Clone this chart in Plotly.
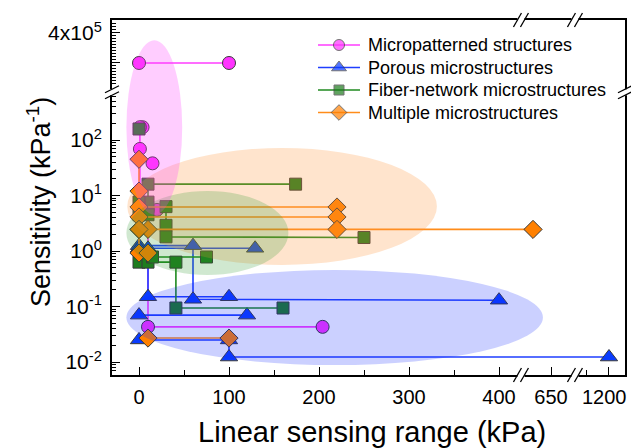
import math
import plotly.graph_objects as go

# ---------------- data (real units: kPa, kPa^-1) ----------------
micro_x = [0, 100, None, 4, 1, 1, 1, 20, 10, 10, 204, None, 15]
micro_y = [3e5, 3e5, None, 170, 170, 69, 5.5, 5.5, 5.5, 0.043, 0.043, None, 38]

porous_x = [0, 60, 60, 400, None, 129, 0, None, 10, 10, 100, None, 0, 120, None, 0, 100, 100, 1200]
porous_y = [1.25, 1.25, 0.135, 0.13, None, 1.12, 1.12, None, 1.12, 0.15, 0.15, None, 0.07, 0.07,
            None, 0.025, 0.025, 0.0123, 0.0123]

fiber_x = [0, None, 174, 10, 10, 0, None, 0, 10, None, 30, 30, 30, 250, None,
           0, 10, 41, 41, 160, None, 15, 75]
fiber_y = [158, None, 16, 16, 7.6, 7.6, None, 4.5, 4.5, None, 6.3, 2.9, 1.8, 1.75, None,
           0.63, 0.63, 0.63, 0.094, 0.094, None, 0.78, 0.78]

multi_x = [0, 0, 0, 220, 220, 0, 0, 10, 220, 630, None, 0, 0, 10, None, 10, 100]
multi_y = [45, 12, 6.2, 6.2, 4.1, 4.1, 2.45, 2.45, 2.45, 2.45, None, 2.45, 0.92, 0.92, None, 0.027, 0.027]

series_names = ["Micropatterned structures", "Porous microstructures",
                "Fiber-network microstructures", "Multiple microstructures"]

# highlight regions (x_low, x_high, y_low, y_high) in data units
region_micro = (-14, 48, 4.5, 3.76e5)
region_multi = (-13, 331, 0.56, 72)
region_fiber = (-14, 166, 0.37, 12)
region_porous = (-14, 641, 0.0088, 0.455)

x_tick_vals = [0, 100, 200, 300, 400, 650, 1200]
x_tick_text = ["0", "100", "200", "300", "400", "650", "1200"]
x_minor_vals = [50, 150, 250, 350, 1175]
y_decades = [-2, -1, 0, 1, 2]

# ---------------- broken-axis transforms ----------------
SEG2_OFF = 192.2   # 650 -> 457.8
SEG3_OFF = 677.8   # 1200 -> 522.2


def tx(v):
    if v is None:
        return None
    if v <= 420:
        return v
    if v <= 900:
        return v - SEG2_OFF
    return v - SEG3_OFF


TOP_REF = 4e5
TOP_Y = 3.928
TOP_SCALE = 0.5405e-5


def ty(v):
    if v is None:
        return None
    if v < 1e4:
        return math.log10(v)
    return TOP_Y + (v - TOP_REF) * TOP_SCALE


X_RANGE = [-30, 540]
Y_RANGE = [-2.234, 4.162]
X_BREAKS = [424.4, 484.4]
Y_BREAK = 2.86

FONT = "Liberation Sans, Arial, sans-serif"

W, H = 631, 448
ML, MR, MT, MB = 112, 6, 20, 73
PW, PH = W - ML - MR, H - MT - MB


def fx(px):   # page pixel -> plot-area fraction
    return (px - ML) / PW


def fy(py):
    return 1 - (py - MT) / PH


fig = go.Figure()
styles = [
    dict(lc="#ff3cff", sym="circle", mc="#ff33ff", ms=13, lms=11),
    dict(lc="#1f3fff", sym="triangle-up", mc="#0a3cff", ms=15, lms=13),
    dict(lc="#1f8a1f", sym="square", mc="#1e7d1e", ms=12, lms=10),
    dict(lc="#ff8c1a", sym="diamond", mc="#ff8000", ms=14, lms=12),
]
for name, xs, ys, st in zip(series_names, [micro_x, porous_x, fiber_x, multi_x],
                            [micro_y, porous_y, fiber_y, multi_y], styles):
    fig.add_trace(go.Scatter(
        x=[tx(v) for v in xs], y=[ty(v) for v in ys], name=name, showlegend=False,
        mode="lines+markers", connectgaps=False,
        line=dict(color=st["lc"], width=1.6),
        marker=dict(symbol=st["sym"], size=st["ms"], color=st["mc"],
                    line=dict(color="#3a3a3a", width=1)),
    ))

# custom key (rows 22.5 px apart)
row_px = [45, 67.5, 90, 112.5]
for name, st, rp in zip(series_names, styles, row_px):
    fig.add_trace(go.Scatter(
        x=[fx(318), fx(339), fx(360)], y=[fy(rp)] * 3, xaxis="x2", yaxis="y2",
        mode="lines+markers", showlegend=False, hoverinfo="skip",
        line=dict(color=st["lc"], width=1.6),
        marker=dict(symbol=st["sym"], size=[0, st["lms"], 0], color=st["mc"],
                    line=dict(color="#3a3a3a", width=[0, 1, 0])),
    ))
    fig.add_annotation(xref="x2", yref="y2", x=fx(366), y=fy(rp), text=name,
                       showarrow=False, xanchor="left", yanchor="middle",
                       font=dict(size=18, family=FONT, color="black"))

# highlight ellipses
for reg, col in [(region_porous, "rgba(20,40,255,0.22)"),
                 (region_multi, "rgba(255,150,60,0.26)"),
                 (region_fiber, "rgba(40,150,40,0.22)"),
                 (region_micro, "rgba(255,60,255,0.26)")]:
    fig.add_shape(type="circle", xref="x", yref="y",
                  x0=tx(reg[0]), x1=tx(reg[1]), y0=ty(reg[2]), y1=ty(reg[3]),
                  fillcolor=col, line=dict(width=0), layer="above")

# axis break marks
for X in X_BREAKS:
    for yp in (0, 1):
        fig.add_shape(type="rect", xref="x", yref="paper", xsizemode="pixel", ysizemode="pixel",
                      xanchor=X, yanchor=yp, x0=-3.5, x1=3.5, y0=-3, y1=3,
                      fillcolor="white", line=dict(width=0), layer="above")
        for dx in (-3.5, 3.5):
            fig.add_shape(type="line", xref="x", yref="paper", xsizemode="pixel", ysizemode="pixel",
                          xanchor=X, yanchor=yp, x0=dx - 4, x1=dx + 4, y0=-7, y1=7,
                          line=dict(color="black", width=1.3), layer="above")
for xp in (0, 1):
    fig.add_shape(type="rect", xref="paper", yref="y", xsizemode="pixel", ysizemode="pixel",
                  xanchor=xp, yanchor=Y_BREAK, x0=-3, x1=3, y0=-3, y1=3,
                  fillcolor="white", line=dict(width=0), layer="above")
    for dy in (-3, 3):
        fig.add_shape(type="line", xref="paper", yref="y", xsizemode="pixel", ysizemode="pixel",
                      xanchor=xp, yanchor=Y_BREAK, x0=-7, x1=7, y0=dy - 3.5, y1=dy + 3.5,
                      line=dict(color="black", width=1.3), layer="above")

# axis titles
fig.add_annotation(xref="paper", yref="paper", x=fx(372), y=0, yshift=-57,
                   xanchor="center", yanchor="middle", showarrow=False,
                   text="Linear sensing range (kPa)", font=dict(size=29, family=FONT, color="black"))
fig.add_annotation(xref="paper", yref="paper", x=0, xshift=-73, y=fy(202),
                   xanchor="center", yanchor="middle", showarrow=False, textangle=-90,
                   text="Sensitivity (kPa<sup>-1</sup>)", font=dict(size=27, family=FONT, color="black"))

# last x tick label is nudged left so it stays inside the page (as in the reference)
x_axis_labels = x_tick_text[:-1] + [""]
fig.add_annotation(xref="x", yref="paper", x=tx(x_tick_vals[-1]), xshift=-4, y=0, yshift=-22,
                   xanchor="center", yanchor="middle", showarrow=False,
                   text=x_tick_text[-1], font=dict(size=20, family=FONT, color="black"))

# y ticks
y_tick_vals = [float(d) for d in y_decades] + [ty(4e5), ty(3e5)]
y_tick_text = ["10<sup>%d</sup>" % d for d in y_decades] + ["4x10<sup>5</sup>", ""]
y_minor = []
for k in range(-3, 3):
    for m in range(2, 10):
        v = math.log10(m * 10 ** k)
        if Y_RANGE[0] < v < Y_BREAK - 0.03:
            y_minor.append(v)
for i in range(23, 45):
    v = i * 1e4
    if v not in (3e5, 4e5):
        yy = ty(v)
        if Y_BREAK + 0.12 < yy < Y_RANGE[1] - 0.02:
            y_minor.append(yy)

fig.update_layout(
    width=W, height=H,
    margin=dict(l=ML, r=MR, t=MT, b=MB),
    paper_bgcolor="white", plot_bgcolor="white",
    font=dict(family=FONT, color="black"),
    showlegend=False,
    xaxis=dict(range=X_RANGE, showgrid=False, zeroline=False, automargin=False,
               showline=True, linecolor="black", linewidth=2, mirror=True,
               tickmode="array", tickvals=[tx(v) for v in x_tick_vals], ticktext=x_axis_labels,
               ticks="inside", ticklen=8, tickwidth=1.3, tickcolor="black",
               tickfont=dict(size=20, family=FONT), ticklabelstandoff=3,
               minor=dict(tickmode="array", tickvals=[tx(v) for v in x_minor_vals],
                          ticks="inside", ticklen=5, tickwidth=1.2, tickcolor="black")),
    yaxis=dict(range=Y_RANGE, showgrid=False, zeroline=False, automargin=False,
               showline=True, linecolor="black", linewidth=2, mirror=True,
               tickmode="array", tickvals=y_tick_vals, ticktext=y_tick_text,
               ticks="inside", ticklen=8, tickwidth=1.3, tickcolor="black",
               tickfont=dict(size=21, family=FONT), ticklabelstandoff=4,
               ticklabeloverflow="allow",
               minor=dict(tickmode="array", tickvals=y_minor,
                          ticks="inside", ticklen=4, tickwidth=1.1, tickcolor="black")),
    xaxis2=dict(overlaying="x", anchor="y2", range=[0, 1], visible=False, fixedrange=True),
    yaxis2=dict(overlaying="y", anchor="x2", range=[0, 1], visible=False, fixedrange=True),
)

fig.write_html("out.html", config={"displayModeBar": False},
               post_script="document.body.style.margin='0';document.body.style.overflow='hidden';")
